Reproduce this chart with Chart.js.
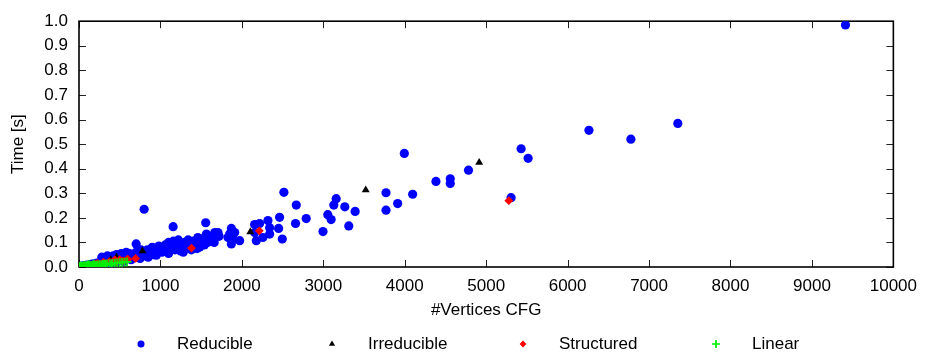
<!DOCTYPE html>
<html>
<head>
<meta charset="utf-8">
<script src="https://cdn.jsdelivr.net/npm/chart.js@4/dist/chart.umd.min.js"></script>
<style>
html,body{margin:0;padding:0;background:#fff;}
#wrap{width:926px;height:354px;position:relative;}
</style>
</head>
<body>
<div id="wrap"><canvas id="c" width="926" height="354"></canvas></div>
<script>
// ---- data (x = #vertices, y = time in s) ----
const seriesNames = ["Reducible", "Irreducible", "Structured", "Linear"];
const xTicks = [0,1000,2000,3000,4000,5000,6000,7000,8000,9000,10000];
const yTicks = [0,0.1,0.2,0.3,0.4,0.5,0.6,0.7,0.8,0.9,1.0];

const reducible = [
 [10,0.002],[25,0.003],[40,0.004],[60,0.005],[80,0.006],[100,0.008],[120,0.007],[140,0.010],
 [160,0.012],[180,0.011],[200,0.014],[220,0.016],[240,0.013],[260,0.018],[280,0.020],[300,0.017],
 [150,0.004],[200,0.006],[250,0.008],[300,0.010],[280,0.040],[350,0.045],
 [320,0.025],[340,0.035],[360,0.020],[380,0.040],[400,0.030],[420,0.045],[440,0.025],[460,0.050],
 [480,0.035],[500,0.040],[520,0.055],[540,0.030],[560,0.045],[580,0.060],[600,0.040],[350,0.012],
 [450,0.018],[550,0.022],[620,0.055],[640,0.030],[660,0.050],
 [680,0.045],[700,0.060],[720,0.040],[740,0.055],[760,0.070],[780,0.050],[800,0.060],[820,0.045],
 [840,0.070],[860,0.055],[880,0.065],[900,0.080],[920,0.050],[940,0.070],[960,0.060],[980,0.085],
 [1000,0.070],[750,0.035],[850,0.040],[950,0.048],[702,0.094],[800,0.235],
 [1020,0.060],[1040,0.080],[1060,0.090],[1080,0.065],[1100,0.100],[1120,0.075],[1140,0.085],
 [1160,0.105],[1180,0.070],[1200,0.090],[1220,0.110],[1240,0.080],[1260,0.095],[1280,0.060],
 [1300,0.100],[1320,0.085],[1340,0.110],[1360,0.090],[1380,0.070],[1400,0.105],[1420,0.080],
 [1440,0.095],[1460,0.120],[1480,0.085],[1500,0.100],[1100,0.055],[1250,0.065],[1450,0.075],
 [1156,0.164],[1556,0.180],
 [1520,0.115],[1540,0.090],[1565,0.134],[1580,0.100],[1600,0.110],[1626,0.114],[1640,0.120],
 [1667,0.140],[1680,0.130],[1707,0.140],[1720,0.125],[1524,0.107],[1483,0.081],[1660,0.100],
 [1850,0.134],[1871,0.157],[1912,0.140],[1891,0.114],[1871,0.094],[1973,0.107],[1830,0.120],
 [2157,0.173],[2218,0.177],[2157,0.140],[2177,0.107],[2258,0.120],[2320,0.189],[2341,0.160],
 [2341,0.134],[2451,0.157],[2463,0.202],[2496,0.114],[2516,0.304],[2668,0.252],[2659,0.177],
 [2790,0.197],[2996,0.144],[3055,0.213],[3096,0.193],[3129,0.252],[3158,0.278],
 [3264,0.245],[3313,0.167],[3391,0.226],[3770,0.302],[3770,0.231],[3913,0.258],[4097,0.296],
 [3995,0.462],[4383,0.348],[4559,0.359],[4559,0.340],[4783,0.394],[5306,0.282],[5429,0.481],
 [5515,0.442],[6262,0.556],[6777,0.520],[7353,0.584],[9412,0.985]
];
const irreducible = [
 [150,0.008],[390,0.030],[462,0.040],[780,0.065],[2104,0.143],[3521,0.313],[4914,0.425]
];
const structured = [
 [50,0.003],[100,0.005],[150,0.008],[200,0.012],[230,0.015],[260,0.010],[300,0.020],[330,0.014],
 [370,0.022],[400,0.018],[441,0.029],[460,0.020],[500,0.030],[540,0.025],[585,0.029],[600,0.032],
 [695,0.035],[1381,0.077],[2214,0.147],[5278,0.270]
];
const linear = [
 [5,0.001],[15,0.001],[25,0.002],[35,0.002],[50,0.003],[65,0.003],[80,0.004],[95,0.004],
 [110,0.005],[130,0.005],[150,0.006],[170,0.007],[190,0.007],[210,0.008],[230,0.009],[250,0.010],
 [270,0.009],[290,0.011],[310,0.012],[330,0.012],[350,0.013],[380,0.014],[410,0.015],[440,0.016],
 [470,0.017],[500,0.018],[530,0.019],[560,0.020],[590,0.021],[20,0.004],[60,0.006],[100,0.008],
 [140,0.003],[200,0.004],[300,0.006],[400,0.009],[120,0.010],[180,0.012]
];

const toPts = a => a.map(p => ({x:p[0], y:p[1]}));
const FONT = "'Liberation Sans', Arial, Helvetica, sans-serif";

const datasets = [
 {label:seriesNames[0], data:toPts(reducible), pointStyle:'circle', radius:4.6, backgroundColor:'#0000ff', borderColor:'#0000ff', borderWidth:0, order:4, legendRadius:3.5},
 {label:seriesNames[1], data:toPts(irreducible), pointStyle:'triangle', radius:4.6, backgroundColor:'#000000', borderColor:'#000000', borderWidth:0, order:3, legendRadius:3.6},
 {label:seriesNames[2], data:toPts(structured), pointStyle:'rectRot', radius:4.4, backgroundColor:'#ff0000', borderColor:'#ff0000', borderWidth:0, order:2, legendRadius:3.4},
 {label:seriesNames[3], data:toPts(linear), pointStyle:'cross', radius:4.4, backgroundColor:'#00ff00', borderColor:'#00ee00', borderWidth:1.7, order:1, legendRadius:4}
];

const framePlugin = {
 id:'frame',
 beforeDatasetsDraw(chart){
  const {ctx, chartArea:{left,right,top,bottom}, scales:{x,y}} = chart;
  ctx.save();
  ctx.strokeStyle = '#222';
  ctx.lineWidth = 1;
  ctx.beginPath();
  xTicks.forEach(v => {
   const px = Math.round(x.getPixelForValue(v)) + 0.5;
   ctx.moveTo(px,bottom); ctx.lineTo(px,bottom-7);
   ctx.moveTo(px,top); ctx.lineTo(px,top+7);
  });
  yTicks.forEach(v => {
   const py = Math.round(y.getPixelForValue(v)) + 0.5;
   ctx.moveTo(left,py); ctx.lineTo(left+7,py);
   ctx.moveTo(right,py); ctx.lineTo(right-7,py);
  });
  ctx.stroke();
  ctx.strokeStyle = '#000';
  ctx.lineWidth = 1.6;
  ctx.strokeRect(left,top,right-left,bottom-top);
  ctx.restore();
 }
};

const legendPlugin = {
 id:'bottomLegend',
 afterDraw(chart){
  const ctx = chart.ctx;
  const xs = [141,332,523,716];
  const ly = 344;
  chart.data.datasets.forEach((ds,i) => {
   ctx.save();
   ctx.fillStyle = ds.backgroundColor; ctx.strokeStyle = ds.borderColor; ctx.lineWidth = ds.borderWidth || 1;
   Chart.helpers.drawPoint(ctx, {pointStyle:ds.pointStyle, radius:ds.legendRadius, borderWidth:ds.borderWidth, rotation:0}, xs[i], ly);
   ctx.restore();
   ctx.save();
   ctx.fillStyle = '#000';
   ctx.font = '17px ' + FONT;
   ctx.textBaseline = 'middle';
   ctx.textAlign = 'left';
   ctx.fillText(ds.label, xs[i]+36, ly);
   ctx.restore();
  });
 }
};

new Chart(document.getElementById('c'), {
 type:'scatter',
 data:{datasets},
 plugins:[framePlugin, legendPlugin],
 options:{
  responsive:false,
  animation:false,
  events:[],
  layout:{padding:{left:0, right:31, top:13, bottom:0}},
  plugins:{legend:{display:false}, tooltip:{enabled:false}},
  scales:{
   x:{
    type:'linear', min:0, max:10000,
    afterBuildTicks(s){ s.ticks = xTicks.map(v=>({value:v})); },
    afterFit(s){ s.height = 87; },
    grid:{display:false, drawTicks:false},
    border:{display:false},
    ticks:{color:'#000', font:{family:FONT, size:17}, padding:9, maxRotation:0, autoSkip:false, callback:v=>String(v)},
    title:{display:true, text:'#Vertices CFG', color:'#000', font:{family:FONT, size:17}, padding:{top:0,bottom:33}}
   },
   y:{
    type:'linear', min:0, max:1,
    afterBuildTicks(s){ s.ticks = yTicks.map(v=>({value:v})); },
    afterFit(s){ s.width = 79; },
    grid:{display:false, drawTicks:false},
    border:{display:false},
    ticks:{color:'#000', font:{family:FONT, size:17}, padding:11, autoSkip:false, callback:v=>Number(v).toFixed(1)},
    title:{display:true, text:'Time [s]', color:'#000', font:{family:FONT, size:17}, padding:{top:8,bottom:0}}
   }
  }
 }
});
</script>
</body>
</html>
